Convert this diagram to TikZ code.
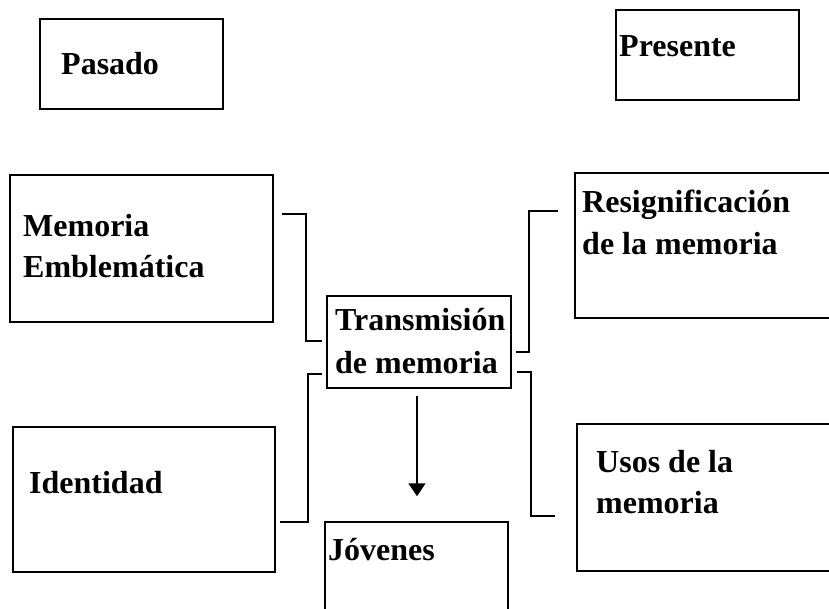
\documentclass[tikz,border=0pt]{standalone}
\usepackage{fontspec}
\setmainfont{Liberation Serif}
\usetikzlibrary{arrows.meta,calc}
\begin{document}
\begin{tikzpicture}[x=1pt,y=-1pt,
  box/.style={draw,line width=1.5pt,inner sep=0pt},
  lbl/.style={anchor=base west,inner sep=0pt,font=\fontsize{32}{42}\selectfont\bfseries},
  link/.style={line width=1.5pt}]
\useasboundingbox (0,0) rectangle (829,609);
\clip (0,0) rectangle (829,609);
% boxes
\node[box,minimum width=183pt,minimum height=90pt] (pas) at (131.5,64) {};
\node[box,minimum width=183pt,minimum height=90pt] (pre) at (707.5,55) {};
\node[box,minimum width=263pt,minimum height=147pt] (mem) at (141.5,248.5) {};
\node[box,minimum width=295pt,minimum height=145pt] (res) at (722.5,245.5) {};
\node[box,minimum width=184pt,minimum height=92pt] (tra) at (419,342) {};
\node[box,minimum width=262pt,minimum height=145pt] (ide) at (144,499.5) {};
\node[box,minimum width=293pt,minimum height=147pt] (uso) at (723.5,497.5) {};
\node[box,minimum width=183pt,minimum height=138pt] (jov) at (416.5,591) {};
% texts
\node[lbl] (tpas) at (61,75) {Pasado};
\node[lbl] (tpre) at (619,57) {Presente};
\node[lbl] (tmemA) at (23,237) {Memoria};
\node[lbl] (tmemB) at (23,278) {Emblemática};
\node[lbl] (tresA) at (582,213) {Resignificación};
\node[lbl] (tresB) at (582,255) {de la memoria};
\node[lbl] (ttraA) at (335,330) {Transmisión};
\node[lbl] (ttraB) at (335,373) {de memoria};
\node[lbl] (tide) at (29,493) {Identidad};
\node[lbl] (tusoA) at (596,472) {Usos de la};
\node[lbl] (tusoB) at (596,513) {memoria};
\node[lbl] (tjov) at (328,560) {Jóvenes};
% bracket connectors
\coordinate (b1s) at (282,214); \coordinate (b1e) at (322,341);
\coordinate (b2s) at (322,374); \coordinate (b2e) at (280,522);
\coordinate (b3s) at (516,352); \coordinate (b3e) at (558,211);
\coordinate (b4s) at (517,372); \coordinate (b4e) at (555,516);
\draw[link] (b1s) -- (306,214) -- (306,341) -- (b1e);
\draw[link] (b2s) -- (308,374) -- (308,522) -- (b2e);
\draw[link] (b3s) -- (529,352) -- (529,211) -- (b3e);
\draw[link] (b4s) -- (531,372) -- (531,516) -- (b4e);
% arrow
\draw[link,-{Triangle[width=17pt,length=13pt]}] ($(tra.south)+(-2,7)$) -- ($(jov.north)+(0.5,-25)$);
\end{tikzpicture}
\end{document}
